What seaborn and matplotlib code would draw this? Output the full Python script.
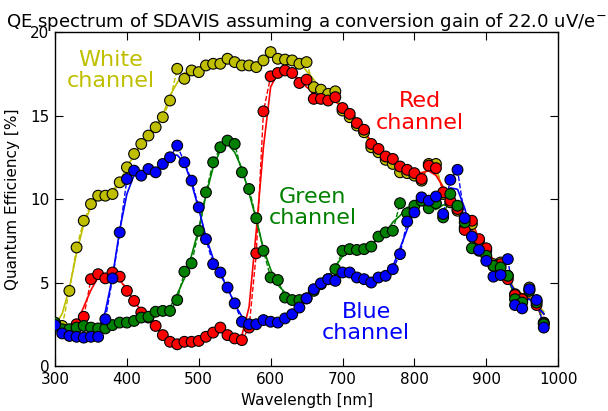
import numpy as np
import pandas as pd
import matplotlib
matplotlib.use("Agg")
import matplotlib.pyplot as plt
import seaborn as sns

wavelength = [300, 310, 320, 330, 340, 350, 360, 370, 380, 390,
              400, 410, 420, 430, 440, 450, 460, 470, 480, 490,
              500, 510, 520, 530, 540, 550, 560, 570, 580, 590,
              600, 610, 620, 630, 640, 650, 660, 670, 680, 690,
              700, 710, 720, 730, 740, 750, 760, 770, 780, 790,
              800, 810, 820, 830, 840, 850, 860, 870, 880, 890,
              900, 910, 920, 930, 940, 950, 960, 970, 980]

white = [2.5, 2.4, 4.5, 7.1, 8.7, 9.7, 10.2, 10.2, 10.3, 11.0,
         11.9, 12.7, 13.3, 13.8, 14.3, 14.9, 15.9, 17.8, 17.2, 17.7,
         17.6, 18.0, 18.1, 18.1, 18.4, 18.2, 18.0, 18.0, 17.9, 18.3,
         18.8, 18.4, 18.35, 18.3, 18.1, 18.2, 16.7, 16.55, 16.3, 16.45,
         15.3, 14.9, 14.4, 14.0, 13.1, 12.8, 12.35, 12.1, 11.6, 11.55,
         11.4, 11.1, 12.1, 12.1, 10.3, 9.8, 9.3, 8.3, 8.5, 7.5,
         6.9, 6.1, 6.2, 5.4, 4.3, 4.0, 4.7, 3.9, 2.6]

red = [2.55, 2.15, 2.15, 2.5, 2.95, 5.2, 5.5, 5.25, 5.6, 5.35,
       4.5, 3.9, 3.2, 2.9, 2.4, 1.85, 1.45, 1.3, 1.45, 1.45,
       1.5, 1.75, 2.0, 2.3, 1.85, 1.65, 1.55, 2.3, 6.75, 15.25,
       17.35, 17.55, 17.7, 17.55, 16.95, 17.15, 16.0, 16.0, 15.9, 16.1,
       15.45, 15.1, 14.55, 14.15, 13.3, 13.0, 12.55, 12.4, 11.95, 11.75,
       11.55, 11.2, 12.0, 11.85, 10.4, 9.9, 9.4, 8.15, 8.7, 7.6,
       7.05, 6.0, 6.1, 5.2, 4.25, 4.0, 4.55, 3.65, 2.55]

green = [2.6, 2.2, 2.2, 2.3, 2.4, 2.3, 2.25, 2.25, 2.45, 2.6,
         2.6, 2.7, 2.9, 2.95, 3.25, 3.3, 3.3, 3.95, 5.65, 6.15,
         8.1, 10.4, 12.2, 13.1, 13.5, 13.3, 11.6, 10.6, 8.85, 6.9,
         5.3, 5.15, 4.1, 3.95, 3.95, 4.05, 4.5, 4.9, 5.2, 5.8,
         6.9, 7.0, 6.95, 7.0, 7.15, 7.75, 8.0, 8.1, 9.75, 9.15,
         9.6, 9.9, 9.45, 9.75, 8.9, 10.3, 9.6, 8.6, 7.05, 6.9,
         6.6, 6.0, 5.9, 5.4, 4.0, 3.8, 4.5, 3.8, 2.5]

blue = [2.45, 1.95, 1.8, 1.75, 1.7, 1.75, 1.75, 2.8, 5.25, 8.0,
        11.2, 11.7, 11.4, 11.8, 11.6, 12.1, 12.5, 13.2, 12.2, 11.1,
        9.5, 7.6, 6.1, 5.6, 4.7, 3.75, 2.65, 2.5, 2.5, 2.75,
        2.65, 2.6, 2.85, 3.1, 3.5, 4.05, 4.6, 4.95, 5.2, 5.1,
        5.6, 5.6, 5.3, 5.2, 5.0, 5.3, 5.4, 5.8, 6.7, 8.65,
        9.2, 10.1, 9.9, 10.15, 9.1, 11.15, 11.75, 8.85, 7.75, 6.95,
        6.3, 5.35, 5.45, 6.4, 3.65, 3.45, 4.6, 3.95, 2.3]

channels = ["White", "Red", "Green", "Blue"]
series = [white, red, green, blue]
colors = {"White": (0.75, 0.75, 0.0), "Red": (1.0, 0.0, 0.0),
          "Green": (0.0, 0.5, 0.0), "Blue": (0.0, 0.0, 1.0)}
label_pos = {"White": (378, 17.7), "Red": (808, 15.2),
             "Green": (658, 9.5), "Blue": (733, 2.6)}

frames = []
for name, vals in zip(channels, series):
    d = pd.DataFrame({"wavelength": wavelength, "qe": vals, "channel": name})
    d["smooth"] = d["qe"].rolling(3, center=True, min_periods=1).mean()
    frames.append(d)
df = pd.concat(frames, ignore_index=True)

plt.rcParams["font.family"] = ["DejaVu Sans"]
fig = plt.figure(figsize=(6.08, 4.11), dpi=100)
ax = fig.add_axes([0.0905, 0.1095, 0.8275, 0.8125])

sns.lineplot(data=df, x="wavelength", y="qe", hue="channel", palette=colors,
             hue_order=channels, estimator=None, sort=False, legend=False,
             linewidth=1.0, ax=ax, zorder=2)
for line in ax.get_lines():
    line.set_linestyle("--")
sns.lineplot(data=df, x="wavelength", y="smooth", hue="channel", palette=colors,
             hue_order=channels, estimator=None, sort=False, legend=False,
             linewidth=1.2, ax=ax, zorder=2)
sns.scatterplot(data=df, x="wavelength", y="qe", hue="channel", palette=colors,
                hue_order=channels, s=60, edgecolor="black", linewidth=0.8,
                legend=False, ax=ax, zorder=3)

for name in channels:
    x, y = label_pos[name]
    ax.text(x, y, name + "\nchannel", color=colors[name], fontsize=16,
            ha="center", va="center", linespacing=1.1)

ax.set_xlim(300, 1000)
ax.set_ylim(0, 20)
ax.set_xticks([300, 400, 500, 600, 700, 800, 900, 1000])
ax.set_yticks([0, 5, 10, 15, 20])
ax.tick_params(direction="in", top=True, right=True, length=5.5, width=0.8,
               labelsize=11, pad=4)
for sp in ax.spines.values():
    sp.set_linewidth(1.0)
    sp.set_color("black")
ax.set_xlabel("Wavelength [nm]", fontsize=11, labelpad=5)
ax.set_ylabel("Quantum Efficiency [%]", fontsize=11, labelpad=7)
ax.set_title("QE spectrum of SDAVIS assuming a conversion gain of 22.0 uV/e$^{-}$",
             fontsize=13.1, pad=4)

fig.savefig("out.png", dpi=100)
